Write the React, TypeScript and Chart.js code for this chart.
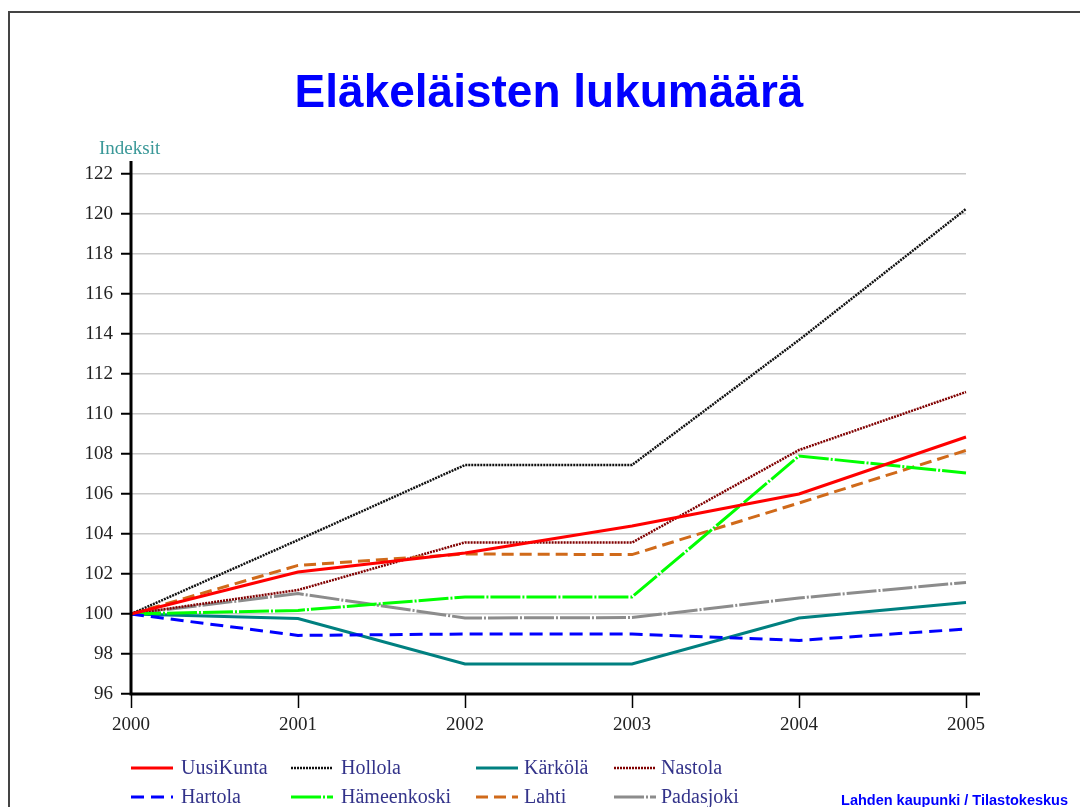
import React, { useEffect, useRef } from "react";
import { Chart, registerables } from "chart.js";

Chart.register(...registerables);

const years = ["2000", "2001", "2002", "2003", "2004", "2005"];
const uusiKunta = [100, 102.1, 103.05, 104.4, 106.0, 108.85];
const hartola = [100, 98.93, 99.0, 99.0, 98.68, 99.25];
const hollola = [100, 103.7, 107.45, 107.45, 113.7, 120.25];
const hameenkoski = [100, 100.18, 100.85, 100.85, 107.9, 107.05];
const karkola = [100, 99.77, 97.5, 97.5, 99.8, 100.58];
const lahti = [100, 102.43, 103.0, 102.97, 105.55, 108.18];
const nastola = [100, 101.2, 103.58, 103.57, 108.2, 111.1];
const padasjoki = [100, 101.02, 99.8, 99.82, 100.8, 101.58];

const yMin = 96;
const yMax = 122;
const yStep = 2;

const titleText = "Eläkeläisten lukumäärä";
const axisTitle = "Indeksit";
const sourceText = "Lahden kaupunki / Tilastokeskus";

const SERIF = "'Liberation Serif', 'Times New Roman', serif";
const SANS = "'Liberation Sans', Arial, sans-serif";

const decorPlugin = {
  id: "decor",
  afterDraw(chart: any) {
    const ctx = chart.ctx;
    const area = chart.chartArea;
    ctx.save();
    // frame
    ctx.strokeStyle = "#444";
    ctx.lineWidth = 2;
    ctx.beginPath();
    ctx.moveTo(9, 810);
    ctx.lineTo(9, 12);
    ctx.lineTo(1085, 12);
    ctx.stroke();

    // title
    ctx.fillStyle = "#0000ff";
    ctx.font = `bold 46px ${SANS}`;
    ctx.textAlign = "center";
    ctx.textBaseline = "alphabetic";
    ctx.fillText(titleText, 549, 107);

    // axis title
    ctx.fillStyle = "#3a9898";
    ctx.font = `19px ${SERIF}`;
    ctx.textAlign = "left";
    ctx.fillText(axisTitle, 99, 154);

    // spines
    ctx.strokeStyle = "#000";
    ctx.lineWidth = 3;
    ctx.beginPath();
    ctx.moveTo(area.left, 161);
    ctx.lineTo(area.left, area.bottom + 1.5);
    ctx.moveTo(area.left - 1.5, area.bottom);
    ctx.lineTo(980, area.bottom);
    ctx.stroke();

    // legend
    const sampleX = [131, 291, 476, 614];
    const textX = [181, 341, 524, 661];
    const rowY = [768, 797];
    chart.data.datasets.forEach((ds: any, i: number) => {
      const col = Math.floor(i / 2);
      const row = i % 2;
      const y = rowY[row];
      ctx.strokeStyle = ds.borderColor;
      ctx.lineWidth = ds.borderWidth;
      ctx.setLineDash(ds.borderDash || []);
      ctx.beginPath();
      ctx.moveTo(sampleX[col], y);
      ctx.lineTo(sampleX[col] + 42, y);
      ctx.stroke();
      ctx.setLineDash([]);
      ctx.fillStyle = "#33338a";
      ctx.font = `20px ${SERIF}`;
      ctx.textAlign = "left";
      ctx.textBaseline = "middle";
      ctx.fillText(ds.label, textX[col], y + 1);
    });

    // source
    ctx.fillStyle = "#0000ff";
    ctx.font = `bold 14.5px ${SANS}`;
    ctx.textAlign = "right";
    ctx.textBaseline = "middle";
    ctx.fillText(sourceText, 1068, 801);
    ctx.restore();
  },
};

export default function App() {
  const ref = useRef<HTMLCanvasElement | null>(null);
  useEffect(() => {
    if (!ref.current) return;
    const mk = (label: string, data: number[], color: string, width: number, dash: number[]) => ({
      label,
      data,
      borderColor: color,
      backgroundColor: color,
      borderWidth: width,
      borderDash: dash,
      pointRadius: 0,
      tension: 0,
      fill: false,
      clip: false as any,
    });
    const chart = new Chart(ref.current, {
      type: "line",
      data: {
        labels: years,
        datasets: [
          mk("UusiKunta", uusiKunta, "#ff0000", 3, []),
          mk("Hartola", hartola, "#0000ff", 3, [13, 7]),
          mk("Hollola", hollola, "#111111", 2.5, [2, 1]),
          mk("Hämeenkoski", hameenkoski, "#00ff00", 3, [30, 2, 2, 2]),
          mk("Kärkölä", karkola, "#008080", 3, []),
          mk("Lahti", lahti, "#d06a1a", 3, [12, 6]),
          mk("Nastola", nastola, "#800000", 2.5, [2, 1]),
          mk("Padasjoki", padasjoki, "#8c8c8c", 3, [30, 2, 2, 2]),
        ],
      },
      options: {
        responsive: false,
        animation: false,
        layout: { padding: { left: 0, top: 174, right: 114, bottom: 0 } },
        plugins: {
          legend: { display: false },
          title: { display: false },
          tooltip: { enabled: false },
        },
        scales: {
          x: {
            type: "category",
            offset: false,
            border: { display: false },
            grid: {
              drawOnChartArea: false,
              drawTicks: true,
              tickLength: 14,
              tickColor: "#000",
              tickWidth: 1.5,
            },
            ticks: {
              color: "#222",
              font: { family: SERIF, size: 19 },
              padding: 6,
              maxRotation: 0,
              autoSkip: false,
            },
            afterFit: (s: any) => {
              s.height = 113;
            },
          },
          y: {
            min: yMin,
            max: yMax,
            border: { display: false },
            grid: {
              color: "#c8c8c8",
              lineWidth: 1.5,
              drawTicks: true,
              tickLength: 10,
              tickColor: "#000",
              tickWidth: 2,
            },
            ticks: {
              stepSize: yStep,
              color: "#222",
              font: { family: SERIF, size: 19 },
              padding: 8,
            },
            afterFit: (s: any) => {
              s.width = 131;
            },
          },
        },
      },
      plugins: [decorPlugin],
    });
    return () => chart.destroy();
  }, []);
  return (
    <div style={{ position: "absolute", left: 0, top: 0, width: 1080, height: 807, background: "#fff" }}>
      <canvas ref={ref} width={1080} height={807} style={{ display: "block" }} />
    </div>
  );
}
